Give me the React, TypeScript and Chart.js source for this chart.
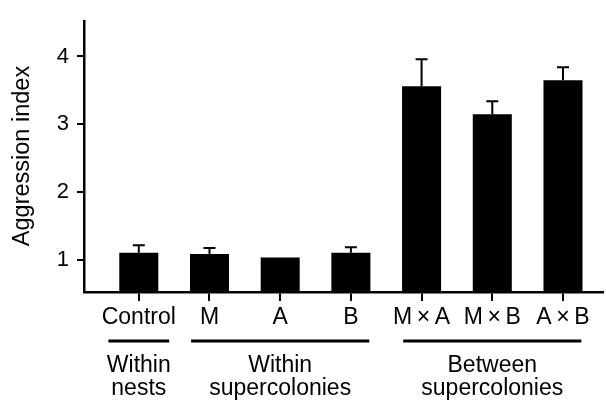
import React, { useEffect, useRef } from "react";
import { Chart, registerables } from "chart.js";

Chart.register(...registerables);

// ---- data ----
const categories = ["Control", "M", "A", "B", "M\u2009×\u2009A", "M\u2009×\u2009B", "A\u2009×\u2009B"];
const meanValues = [1.11, 1.09, 1.04, 1.11, 3.56, 3.15, 3.65];
const errorTops = [1.22, 1.18, 1.04, 1.19, 3.96, 3.34, 3.84];
const yTickValues = [1, 2, 3, 4];
const groupLabels = [["Within", "nests"], ["Within", "supercolonies"], ["Between", "supercolonies"]];
const groupFirst = [0, 1, 4];
const groupLast = [0, 3, 6];
const groupPad = [0.43, 0.26, 0.26];

const FONT = "'Liberation Sans', Arial, Helvetica, sans-serif";

const errorBarPlugin = {
  id: "errorBars",
  afterDatasetsDraw(chart: any) {
    const meta = chart.getDatasetMeta(0);
    const yScale = chart.scales.y;
    const ctx = chart.ctx;
    ctx.save();
    ctx.strokeStyle = "#000";
    ctx.lineWidth = 2;
    meta.data.forEach((bar: any, i: number) => {
      const top = errorTops[i];
      if (top <= meanValues[i]) return;
      const yTop = yScale.getPixelForValue(top);
      ctx.beginPath();
      ctx.moveTo(bar.x, bar.y);
      ctx.lineTo(bar.x, yTop);
      ctx.moveTo(bar.x - 6, yTop);
      ctx.lineTo(bar.x + 6, yTop);
      ctx.stroke();
    });
    ctx.restore();
  },
};

const groupPlugin = {
  id: "groupLabels",
  afterDraw(chart: any) {
    const xScale = chart.scales.x;
    const ctx = chart.ctx;
    const base = chart.chartArea.bottom;
    ctx.save();
    ctx.strokeStyle = "#000";
    ctx.fillStyle = "#000";
    ctx.lineWidth = 3;
    ctx.font = `23px ${FONT}`;
    ctx.textAlign = "center";
    ctx.textBaseline = "alphabetic";
    groupLabels.forEach((lines, g) => {
      const x0 = xScale.getPixelForValue(groupFirst[g] - groupPad[g]);
      const x1 = xScale.getPixelForValue(groupLast[g] + groupPad[g]);
      const xc = xScale.getPixelForValue((groupFirst[g] + groupLast[g]) / 2);
      ctx.beginPath();
      ctx.moveTo(x0, base + 49);
      ctx.lineTo(x1, base + 49);
      ctx.stroke();
      lines.forEach((t, k) => {
        ctx.fillText(t, xc, base + 80 + k * 23);
      });
    });
    // y axis title
    ctx.save();
    ctx.translate(23, 156);
    ctx.rotate(-Math.PI / 2);
    ctx.textBaseline = "middle";
    ctx.font = `23.5px ${FONT}`;
    ctx.fillText("Aggression index", 0, 0);
    ctx.restore();
    ctx.restore();
  },
};

export default function App() {
  const ref = useRef<HTMLCanvasElement | null>(null);
  useEffect(() => {
    document.body.style.margin = "0";
    const canvas = ref.current!;
    const chart = new Chart(canvas, {
      type: "bar",
      data: {
        datasets: [
          {
            data: meanValues.map((v, i) => ({ x: i, y: v })),
            backgroundColor: "#000",
            borderWidth: 0,
            barPercentage: 0.552,
            categoryPercentage: 1,
          },
        ],
      },
      options: {
        animation: false,
        responsive: false,
        maintainAspectRatio: false,
        layout: { padding: { top: 16, right: 3, left: 0, bottom: 0 } },
        plugins: { legend: { display: false }, tooltip: { enabled: false }, title: { display: false } },
        scales: {
          x: {
            type: "linear",
            offset: false,
            min: -0.775,
            max: 6.566,
            afterBuildTicks: (scale: any) => {
              scale.ticks = categories.map((_, i) => ({ value: i }));
            },
            afterFit: (scale: any) => {
              scale.height = 114;
            },
            grid: { display: true, offset: false, drawOnChartArea: false, drawTicks: true, tickLength: 9, color: "#000", lineWidth: 2 },
            border: { display: true, color: "#000", width: 2.5 },
            ticks: {
              color: "#000",
              font: { family: FONT, size: 23 },
              padding: 3,
              maxRotation: 0,
              autoSkip: false,
              callback: (v: any) => categories[Math.round(Number(v))] ?? "",
            },
          },
          y: {
            min: 0.53,
            max: 4.52,
            afterBuildTicks: (scale: any) => {
              scale.ticks = yTickValues.map((v) => ({ value: v }));
            },
            afterFit: (scale: any) => {
              scale.width = 84;
            },
            grid: { display: true, drawOnChartArea: false, drawTicks: true, tickLength: 7, color: "#000", lineWidth: 2 },
            border: { display: true, color: "#000", width: 2.5 },
            ticks: {
              color: "#000",
              font: { family: FONT, size: 22 },
              padding: 8,
              callback: (v: any) => String(v),
            },
          },
        },
      },
      plugins: [errorBarPlugin, groupPlugin],
    } as any);
    return () => chart.destroy();
  }, []);
  return (
    <div style={{ position: "absolute", left: 0, top: 0, width: 606, height: 406, background: "#fff" }}>
      <canvas ref={ref} width={606} height={406} style={{ width: 606, height: 406, display: "block" }} />
    </div>
  );
}
